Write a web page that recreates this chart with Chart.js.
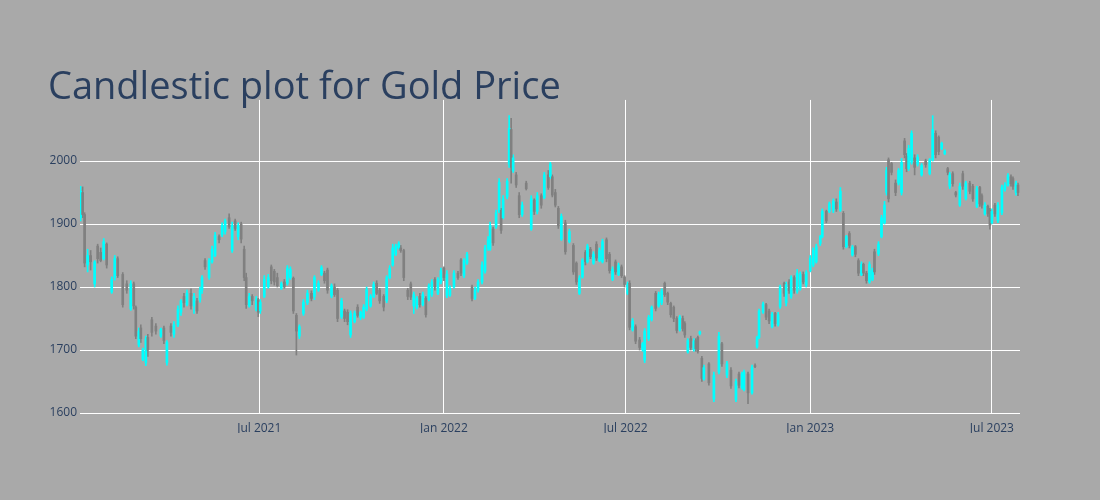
<!DOCTYPE html>
<html>
<head>
<meta charset="utf-8">
<script src="https://cdn.jsdelivr.net/npm/chart.js@4"></script>
<style>
  html, body { margin: 0; padding: 0; background: #a9a9a9; }
  canvas { display: block; }
</style>
</head>
<body>
<canvas id="goldChart" width="1100" height="500"></canvas>
<script>
// day offsets from 2021-01-01, one entry per candle
const days = [
  3,5,7,10,13,17,20,23,26,29, 34,37,40,45,49,53,56,58,61,63,
  65,68,70,74,78,83,86,89,93,96, 100,103,106,109,113,116,119,122,124,127,
  131,134,137,141,144,147,151,154,157,160, 163,166,168,171,174,178,180,182,186,190,
  193,196,199,203,206,209,212,215,218,221, 225,229,233,236,240,243,246,249,253,256,
  259,263,266,269,272,276,279,282,285,288, 292,295,298,301,305,308,311,314,317,320,
  322,325,329,332,335,338,341,344,347,350, 353,356,359,362,365,368,371,375,379,382,
  385,388,393,396,399,403,406,409,411,414, 417,420,422,424,428,430,432,434,437,440,
  443,447,452,455,458,462,465,469,471,473, 476,479,482,486,490,494,497,500,503,506,
  508,511,514,517,520,523,527,530,533,536, 539,542,545,548,550,553,556,560,563,565,
  569,572,576,579,582,585,588,591,594,597, 600,603,605,608,611,614,616,618,620,622,
  624,629,634,639,642,647,651,656,659,662, 664,668,672,675,677,679,683,686,689,692,
  695,698,700,704,706,709,711,714,717,720, 723,726,730,733,736,740,742,746,749,753,
  756,760,763,766,769,772,775,778,781,783, 786,789,792,794,798,801,804,806,808,811,
  815,818,821,824,826,828,831,834,837,841, 845,849,852,855,858,861,864,867,869,872,
  875,879,882,885,889,892,896,899,901,904, 907,909,911,914,917,921,924,927,930,932,
  935,937
];

const opens = [
  1910,1950,1915,1835,1850,1805,1865,1855,1845,1868, 1792,1815,1845,1820,1805,1765,1805,1768,1708,1735,
  1685,1680,1720,1748,1738,1722,1735,1680,1738,1725, 1740,1760,1785,1772,1790,1770,1778,1780,1795,1842,
  1815,1840,1850,1880,1883,1888,1910,1858,1905,1880, 1900,1860,1815,1770,1785,1765,1780,1762,1785,1800,
  1832,1825,1815,1798,1808,1806,1815,1814,1755,1722, 1758,1775,1790,1785,1795,1820,1822,1827,1786,1800,
  1795,1753,1762,1760,1724,1745,1768,1752,1752,1765, 1770,1785,1806,1795,1785,1778,1815,1835,1852,1862,
  1862,1858,1795,1805,1770,1768,1785,1772,1782,1780, 1788,1812,1790,1808,1830,1786,1787,1800,1822,1843,
  1818,1838,1800,1782,1795,1808,1825,1862,1860,1892, 1896,1920,1922,1910,1943,1995,2050,1985,1978,1945,
  1915,1965,1892,1938,1920,1945,1942,1978,1975,1975, 1950,1925,1876,1902,1872,1866,1838,1790,1816,1855,
  1840,1860,1838,1868,1842,1840,1875,1852,1812,1840, 1820,1832,1816,1790,1806,1732,1737,1716,1700,1684,
  1718,1748,1790,1770,1775,1806,1790,1774,1768,1750, 1732,1750,1742,1697,1718,1700,1715,1720,1726,1687,
  1654,1678,1622,1665,1710,1660,1668,1621,1662,1640, 1637,1662,1632,1675,1705,1720,1760,1772,1762,1737,
  1758,1740,1769,1806,1775,1808,1785,1815,1793,1797, 1820,1803,1826,1835,1840,1869,1880,1920,1920,1922,
  1935,1922,1917,1864,1885,1851,1864,1842,1820,1836, 1822,1808,1812,1856,1853,1880,1902,1950,2002,1996,
  1965,1965,1950,2032,2008,1988,1998,2005,1995,1978, 2000,1980,2002,2044,2038,2020,2012,1988,1960,1980,
  1950,1930,1980,1940,1965,1960,1928,1958,1945,1916, 1928,1922,1902,1930,1905,1918,1955,1962,1975,1972,
  1950,1962
];

const highs = [
  1960,1959,1918,1860,1858,1842,1868,1862,1877,1870, 1816,1850,1848,1823,1810,1810,1808,1770,1735,1740,
  1703,1722,1725,1752,1742,1735,1738,1715,1742,1745, 1770,1780,1790,1795,1797,1790,1782,1800,1818,1845,
  1845,1865,1887,1883,1902,1908,1916,1903,1908,1902, 1903,1865,1822,1790,1788,1785,1782,1780,1818,1820,
  1835,1828,1822,1808,1812,1834,1832,1816,1758,1740, 1780,1795,1794,1818,1810,1834,1825,1830,1805,1805,
  1798,1782,1765,1764,1762,1762,1772,1762,1772,1800, 1788,1808,1810,1798,1788,1818,1834,1868,1868,1872,
  1866,1860,1798,1808,1792,1785,1790,1792,1785,1805, 1812,1815,1815,1830,1832,1826,1802,1826,1825,1845,
  1845,1855,1803,1800,1812,1840,1866,1880,1903,1895, 1922,1972,1925,1945,1972,2072,2068,2010,1982,1950,
  1935,1968,1945,1940,1950,1948,1982,1985,1998,1978, 1955,1928,1916,1906,1892,1869,1840,1818,1845,1858,
  1868,1863,1856,1872,1862,1876,1878,1855,1832,1843, 1838,1835,1818,1808,1810,1750,1740,1720,1712,1734,
  1755,1770,1793,1792,1797,1808,1792,1776,1770,1753, 1755,1754,1745,1718,1722,1718,1718,1722,1730,1690,
  1676,1680,1665,1728,1712,1682,1672,1654,1665,1665, 1668,1665,1676,1678,1722,1765,1776,1774,1765,1760,
  1760,1760,1803,1808,1808,1812,1818,1818,1828,1824, 1824,1826,1850,1862,1868,1882,1924,1922,1935,1940,
  1940,1958,1920,1882,1888,1866,1866,1845,1840,1838, 1825,1840,1830,1860,1872,1914,1936,1990,2005,1998,
  1970,1988,2004,2036,2012,2025,2048,2010,2010,1996, 2003,2004,2072,2048,2040,2030,2018,1990,1982,1983,
  1952,1965,1984,1968,1968,1963,1960,1960,1948,1934, 1930,1925,1924,1933,1934,1962,1966,1980,1978,1975,
  1968,1965
];

const lows = [
  1905,1910,1832,1824,1827,1800,1838,1840,1843,1830, 1790,1811,1815,1768,1790,1763,1765,1718,1705,1712,
  1683,1675,1690,1722,1725,1720,1710,1676,1722,1720, 1737,1755,1768,1770,1765,1758,1758,1776,1790,1828,
  1812,1838,1848,1870,1880,1884,1893,1855,1890,1875, 1870,1810,1766,1768,1772,1762,1753,1758,1783,1798,
  1805,1803,1800,1796,1798,1803,1812,1758,1692,1718, 1755,1772,1778,1780,1793,1818,1806,1790,1783,1785,
  1745,1750,1745,1740,1720,1743,1752,1748,1750,1762, 1768,1783,1788,1774,1762,1775,1813,1833,1850,1860,
  1855,1810,1780,1780,1758,1765,1768,1770,1752,1778, 1785,1795,1788,1805,1810,1783,1785,1798,1812,1818,
  1815,1836,1778,1780,1792,1805,1822,1858,1858,1866, 1893,1918,1885,1908,1940,1990,1965,1982,1958,1910,
  1912,1954,1890,1915,1916,1925,1940,1955,1972,1943, 1927,1893,1874,1852,1870,1820,1804,1788,1814,1835,
  1838,1845,1836,1842,1840,1838,1840,1822,1810,1820, 1818,1815,1800,1788,1732,1730,1710,1700,1698,1680,
  1715,1746,1762,1768,1772,1785,1772,1752,1745,1727, 1730,1730,1720,1695,1700,1698,1698,1695,1724,1650,
  1652,1644,1618,1662,1674,1656,1639,1618,1640,1638, 1635,1615,1630,1672,1703,1718,1758,1748,1742,1735,
  1738,1738,1766,1785,1770,1790,1782,1790,1790,1795, 1805,1800,1824,1832,1838,1866,1878,1902,1918,1918,
  1920,1920,1860,1862,1862,1849,1848,1818,1818,1818, 1806,1806,1810,1820,1850,1878,1900,1946,1935,1978,
  1945,1962,1946,2005,1983,1985,1995,1978,1992,1976, 1990,1978,2000,2005,2010,2018,2010,1978,1956,1960,
  1943,1928,1955,1938,1948,1936,1926,1928,1925,1914, 1912,1892,1900,1912,1902,1915,1952,1960,1960,1955,
  1946,1945
];

const closes = [
  1952,1915,1838,1850,1840,1840,1845,1842,1872,1835, 1812,1845,1818,1772,1795,1805,1770,1722,1730,1718,
  1700,1718,1700,1728,1730,1733,1715,1712,1728,1740, 1765,1778,1775,1790,1770,1785,1762,1795,1815,1832,
  1842,1860,1882,1875,1898,1905,1896,1898,1893,1898, 1876,1815,1772,1785,1778,1780,1760,1776,1812,1815,
  1810,1808,1802,1805,1800,1830,1828,1762,1730,1737, 1776,1790,1782,1815,1806,1831,1810,1795,1802,1788,
  1750,1778,1750,1745,1758,1758,1755,1760,1768,1796, 1785,1804,1790,1778,1768,1815,1830,1862,1865,1869,
  1858,1815,1785,1784,1788,1782,1772,1788,1756,1802, 1808,1800,1812,1826,1815,1820,1798,1822,1815,1822,
  1842,1852,1782,1795,1808,1835,1862,1875,1898,1870, 1918,1966,1890,1940,1968,2052,1990,2005,1962,1915,
  1930,1956,1940,1920,1945,1930,1978,1958,1995,1946, 1930,1897,1912,1856,1888,1824,1808,1814,1842,1840,
  1865,1848,1852,1846,1858,1872,1845,1826,1828,1824, 1834,1818,1804,1804,1736,1746,1714,1704,1710,1730,
  1752,1768,1766,1788,1794,1788,1776,1756,1750,1731, 1752,1734,1724,1715,1704,1714,1702,1698,1729,1655,
  1672,1648,1660,1722,1678,1678,1643,1650,1644,1662, 1665,1632,1672,1674,1720,1762,1773,1752,1746,1757,
  1742,1756,1800,1790,1804,1794,1815,1795,1822,1820, 1808,1823,1846,1858,1864,1880,1920,1905,1932,1936,
  1924,1952,1864,1880,1866,1863,1852,1822,1836,1822, 1810,1836,1826,1824,1868,1910,1930,1985,1940,1982,
  1950,1985,1998,2010,1988,2020,2044,1990,2006,1993, 1994,2002,2050,2010,2015,2028,2016,1982,1978,1964,
  1946,1960,1960,1965,1952,1940,1956,1932,1930,1930, 1916,1898,1920,1916,1930,1958,1962,1977,1964,1960,
  1964,1950
];

const xTickDays = [181, 365, 546, 730, 911];
const xTickLabels = ["Jul 2021", "Jan 2022", "Jul 2022", "Jan 2023", "Jul 2023"];
const yTicks = [1600, 1700, 1800, 1900, 2000];

const upColor = "#00ffff";
const downColor = "#808080";
const textColor = "#2a3f5f";

Chart.defaults.font.family = "'Open Sans', sans-serif";

function candleColor(ctx) {
  const i = ctx.dataIndex;
  return closes[i] > opens[i] ? upColor : downColor;
}

const bodies = days.map((d, i) => ({ x: d, y: [opens[i], closes[i]] }));
const wicks = days.map((d, i) => ({ x: d, y: [lows[i], highs[i]] }));

new Chart(document.getElementById("goldChart"), {
  type: "bar",
  data: {
    datasets: [
      {
        label: "body",
        data: bodies,
        backgroundColor: candleColor,
        barThickness: 2,
        grouped: false,
        borderWidth: 0,
      },
      {
        label: "wick",
        data: wicks,
        backgroundColor: candleColor,
        barThickness: 1,
        grouped: false,
        borderWidth: 0,
      },
    ],
  },
  options: {
    responsive: false,
    animation: false,
    devicePixelRatio: 1,
    layout: { padding: { left: 48, right: 80, top: 76, bottom: 67 } },
    plugins: {
      legend: { display: false },
      tooltip: { enabled: false },
      title: {
        display: true,
        text: "Candlestic plot for Gold Price",
        align: "start",
        color: textColor,
        font: { size: 38, weight: "normal", lineHeight: 0.63 },
        padding: { top: 0, bottom: 0 },
      },
    },
    scales: {
      x: {
        type: "linear",
        min: 2.4,
        max: 939,
        offset: false,
        grid: { color: "#ffffff", lineWidth: 1, drawTicks: false, offset: false },
        border: { display: false },
        afterBuildTicks: (scale) => {
          scale.ticks = xTickDays.map((v) => ({ value: v }));
        },
        afterFit: (scale) => {
          scale.height = 20;
        },
        ticks: {
          autoSkip: false,
          maxRotation: 0,
          padding: 8,
          color: textColor,
          font: { size: 12 },
          callback: (value) => xTickLabels[xTickDays.indexOf(value)],
        },
      },
      y: {
        min: 1600,
        max: 2097,
        grid: { color: "#ffffff", lineWidth: 1, drawTicks: false },
        border: { display: false },
        afterBuildTicks: (scale) => {
          scale.ticks = yTicks.map((v) => ({ value: v }));
        },
        afterFit: (scale) => {
          scale.width = 32;
        },
        ticks: {
          padding: 3,
          color: textColor,
          font: { size: 12 },
          callback: (value) => String(value),
        },
      },
    },
  },
});
</script>
</body>
</html>
